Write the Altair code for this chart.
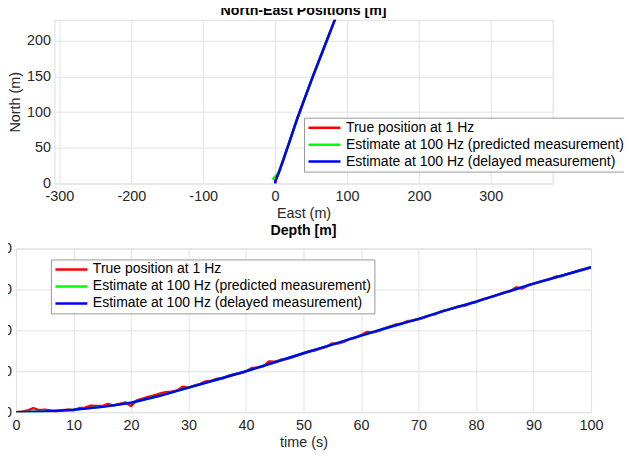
import altair as alt
import pandas as pd

SERIES = [
    "True position at 1 Hz",
    "Estimate at 100 Hz (predicted measurement)",
    "Estimate at 100 Hz (delayed measurement)",
]
COLORS = ["#ff0000", "#00ff00", "#0000ff"]
FONT = "Liberation Sans"
FS = 14.4
LFS = 14

# ---- North-East panel ----
ne_true_east = [0, 0.5, 5, 11, 20.5, 30.5, 40, 52.5, 68, 83, 89]
ne_true_north = [0, 4, 15, 32, 60, 90, 116, 150, 190, 229, 245]
ne_pred_east = [-3.5, -2, 0.5, 5, 11, 20.5, 30.5, 40, 52.5, 68, 83, 89]
ne_pred_north = [5.5, 7.5, 10, 16, 32, 60, 90, 116, 150, 190, 229, 245]
ne_del_east = [0, 0.5, 5, 11, 20.5, 30.5, 40, 52.5, 68, 83, 89]
ne_del_north = [0, 4, 15, 32, 60, 90, 116, 150, 190, 229, 245]

# ---- Depth panel ----
t_true = list(range(0, 101))
d_true = [0.0, 0.1, 0.4, 1.0, 0.5, 0.6, 0.4, 0.1, 0.5, 0.6,
          0.5, 1.0, 1.1, 1.6, 1.5, 1.5, 2.0, 1.6, 2.0, 2.4,
          1.5, 2.9, 3.3, 3.7, 4.1, 4.5, 4.9, 5.0, 5.3, 6.2,
          6.0, 6.5, 6.9, 7.5, 7.7, 8.2, 8.3, 8.9, 9.3, 9.5,
          10.0, 10.8, 10.9, 11.2, 12.4, 12.3, 12.8, 13.0, 13.4, 13.9,
          14.4, 14.9, 15.1, 15.6, 16.0, 16.8, 16.8, 17.2, 17.9, 18.2,
          18.8, 19.6, 19.5, 19.8, 20.4, 20.9, 21.4, 21.6, 22.2, 22.4,
          22.7, 23.1, 23.7, 24.0, 24.7, 25.0, 25.4, 25.9, 26.0, 26.6,
          26.9, 27.5, 27.9, 28.3, 28.8, 29.3, 29.6, 30.5, 30.2, 31.0,
          31.4, 31.8, 32.2, 32.6, 33.2, 33.3, 33.8, 34.2, 34.6, 35.0,
          35.4]
t_est = [0, 5, 10, 15, 20, 25, 30, 35, 40, 45, 50, 55, 60, 65, 70, 75, 80, 85, 90, 95, 100]
d_pred = [0, 0.2, 0.6, 1.3, 2.3, 4.0, 6.0, 8.0, 10.0, 12.2, 14.4, 16.5, 18.7, 20.8,
          22.8, 25.0, 27.0, 29.2, 31.4, 33.4, 35.4]
d_del = [0, 0.2, 0.6, 1.3, 2.3, 4.0, 6.0, 8.0, 10.0, 12.2, 14.4, 16.5, 18.7, 20.8,
         22.8, 25.0, 27.0, 29.2, 31.4, 33.4, 35.4]


def frame(xs, ys, name):
    return pd.DataFrame({"x": xs, "y": ys, "series": name, "i": list(range(len(xs)))})


ne_frames = [
    frame(ne_true_east, ne_true_north, SERIES[0]),
    frame(ne_pred_east, ne_pred_north, SERIES[1]),
    frame(ne_del_east, ne_del_north, SERIES[2]),
]
d_frames = [
    frame(t_true, d_true, SERIES[0]),
    frame(t_est, d_pred, SERIES[1]),
    frame(t_est, d_del, SERIES[2]),
]


def make_legend(lx, ly):
    return alt.Legend(
        title=None, orient="none", legendX=lx, legendY=ly, direction="vertical",
        symbolType="stroke", symbolSize=1024, symbolStrokeWidth=2.5, clipHeight=14,
        labelFont=FONT, labelFontSize=LFS, labelColor="#000000", labelLimit=500,
        labelOffset=4, padding=3, rowPadding=3,
        fillColor="#ffffff", strokeColor="#999999",
    )


def panel(frames, xscale, yscale, xaxis, yaxis, legend, width, height, title):
    layers = []
    for df in frames:
        layers.append(
            alt.Chart(df).mark_line(strokeWidth=2.5, clip=True, strokeJoin="round").encode(
                x=alt.X("x:Q", scale=xscale, axis=xaxis),
                y=alt.Y("y:Q", scale=yscale, axis=yaxis),
                order=alt.Order("i:Q"),
                color=alt.Color("series:N", scale=alt.Scale(domain=SERIES, range=COLORS), legend=legend),
            )
        )
    return alt.layer(*layers).properties(
        width=width, height=height,
        title=alt.TitleParams(title, font=FONT, fontSize=14.2, fontWeight="bold", color="#000000",
                              anchor="middle", frame="group", offset=2),
    )


axis_common = dict(labelFont=FONT, labelFontSize=FS, labelColor="#262626", titleFont=FONT,
                   titleFontSize=FS, titleFontWeight="normal", titleColor="#262626",
                   domain=False, ticks=False, grid=True, gridColor="#e3e3e3", labelFlush=False)

top = panel(
    ne_frames,
    alt.Scale(domain=[-307, 386], nice=False, zero=False),
    alt.Scale(domain=[0, 229], nice=False),
    alt.Axis(title="East (m)", values=[-300, -200, -100, 0, 100, 200, 300], labelPadding=6,
             titlePadding=4, labelExpr="'' + datum.value", **axis_common),
    alt.Axis(title="North (m)", values=[0, 50, 100, 150, 200], labelPadding=4, titlePadding=4,
             **axis_common),
    make_legend(250, 98), 499, 164, "North-East Positions [m]",
)

bottom = panel(
    d_frames,
    alt.Scale(domain=[0, 100], nice=False),
    alt.Scale(domain=[0, 40], nice=False),
    alt.Axis(title="time (s)", values=list(range(0, 101, 10)), labelPadding=6, titlePadding=4,
             **axis_common),
    alt.Axis(title=None, values=[0, 10, 20, 30, 40], labelPadding=4.5, **axis_common),
    make_legend(35, 11), 576, 164, "Depth [m]",
)

chart = alt.vconcat(top, bottom, spacing=65, center=True, bounds="flush").resolve_scale(
    color="independent").resolve_legend(color="independent").properties(
    padding={"left": -14, "top": -5.5, "right": -5, "bottom": -1},
).configure_view(stroke="#8c8c8c", strokeWidth=1).configure(background="white")

chart.save("out.html", embed_options={"renderer": "svg", "actions": False})
